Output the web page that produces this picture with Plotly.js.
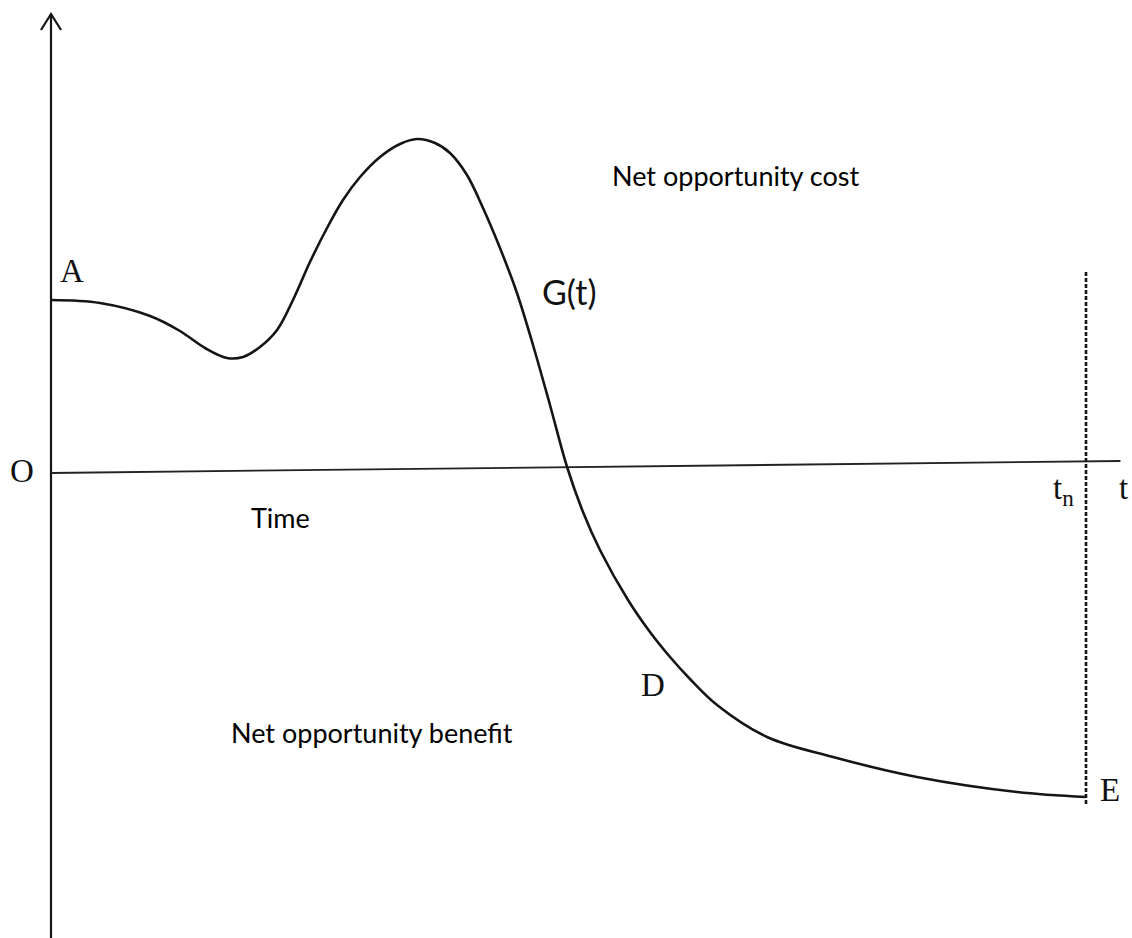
<!DOCTYPE html>
<html>
<head>
<meta charset="utf-8">
<script src="https://cdn.plot.ly/plotly-3.0.1.min.js"></script>
<style>html,body{margin:0;padding:0;background:#fff;}#chart{width:1132px;height:938px;}</style>
</head>
<body>
<div id="chart"></div>
<script>
// Curve G(t): time (t_n = 10) and value
const curveT = [0, 0.473, 0.957, 1.246, 1.488, 1.700, 1.855, 2.019, 2.184, 2.338, 2.502, 2.667, 2.821, 2.986, 3.179, 3.372, 3.536, 3.710, 3.855, 4.019, 4.174, 4.338, 4.502, 4.657, 4.821, 4.986, 5.140, 5.304, 5.575, 5.787, 5.981, 6.174, 6.435, 6.918, 7.556, 8.367, 9.333, 10.0];
const curveG = [1.73, 1.70, 1.57, 1.42, 1.25, 1.15, 1.16, 1.26, 1.43, 1.73, 2.11, 2.45, 2.73, 2.96, 3.16, 3.29, 3.34, 3.30, 3.20, 2.98, 2.65, 2.25, 1.80, 1.28, 0.68, 0.06, -0.39, -0.77, -1.27, -1.59, -1.84, -2.06, -2.32, -2.64, -2.84, -3.04, -3.19, -3.24];

// Time axis (hand drawn, slightly rising)
const timeAxisT = [0, 10.333];
const timeAxisG = [0, 0.12];

// Vertical value axis
const valueAxisT = [0, 0];
const valueAxisG = [4.59, -4.65];
const arrowT = [-0.097, 0, 0.097];
const arrowG = [4.43, 4.59, 4.43];

// t_n marker (dashed)
const tn = 10;
const tnG = [2.01, -3.32];

const xRange = [-0.4928, 10.4444];
const yRange = [-4.65, 4.73];

const ink = '#151515';
const traces = [
  {x: valueAxisT, y: valueAxisG, mode: 'lines', line: {color: ink, width: 2.2}},
  {x: arrowT, y: arrowG, mode: 'lines', line: {color: ink, width: 2.2}},
  {x: timeAxisT, y: timeAxisG, mode: 'lines', line: {color: '#222', width: 1.8}},
  {x: [tn, tn], y: tnG, mode: 'lines', line: {color: ink, width: 2.6, dash: '4px,2px'}},
  {x: curveT, y: curveG, mode: 'lines', line: {color: ink, width: 2.6, shape: 'spline', smoothing: 1}}
];

const serif = {family: 'Liberation Serif, DejaVu Serif, serif', size: 33, color: '#111'};
const sans = {family: 'Lato, Open Sans, sans-serif', size: 27, color: '#000'};
function lab(x, y, text, font) {
  return {x: x, y: y, xref: 'x', yref: 'y', text: text, showarrow: false, xanchor: 'center', yanchor: 'middle', font: font};
}
const annotations = [
  lab(0.203, 2.02, 'A', serif),
  lab(-0.28, 0.02, 'O', serif),
  lab(5.005, 1.82, 'G(t)', {family: 'Lato, Open Sans, sans-serif', size: 34, color: '#111'}),
  lab(6.618, 2.98, 'Net opportunity cost', sans),
  lab(2.222, -0.44, 'Time', sans),
  lab(9.787, -0.17, 't<sub>n</sub>', serif),
  lab(10.367, -0.15, 't', serif),
  lab(5.816, -2.12, 'D', serif),
  lab(3.101, -2.59, 'Net opportunity benefit', sans),
  lab(10.232, -3.17, 'E', serif)
];

const layout = {
  width: 1132, height: 938,
  margin: {l: 0, r: 0, t: 0, b: 0, pad: 0},
  paper_bgcolor: '#fff', plot_bgcolor: '#fff',
  showlegend: false,
  xaxis: {range: xRange, visible: false, fixedrange: true},
  yaxis: {range: yRange, visible: false, fixedrange: true},
  annotations: annotations
};
Plotly.newPlot('chart', traces, layout, {staticPlot: true, displayModeBar: false});
</script>
</body>
</html>
